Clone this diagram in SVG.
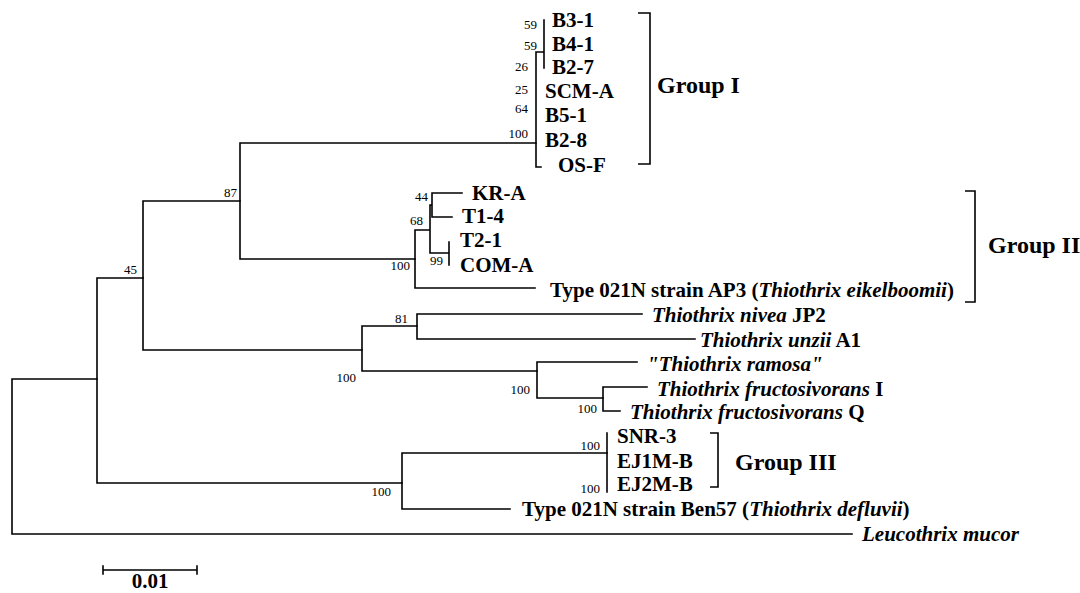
<svg xmlns="http://www.w3.org/2000/svg" width="1080" height="593" viewBox="0 0 1080 593">
<style>
.br{fill:none;stroke:#000;stroke-width:1.6;stroke-linecap:square}
.bk{fill:none;stroke:#000;stroke-width:1.6}
.lf{font-family:"Liberation Serif","Times New Roman",serif;font-size:21px;font-weight:bold;fill:#000}
.it{font-style:italic}
.bs{font-family:"Liberation Serif","Times New Roman",serif;font-size:13px;fill:#000;text-anchor:end}
.gp{font-family:"Liberation Serif","Times New Roman",serif;font-size:24px;font-weight:bold;fill:#000}
</style>
<rect width="1080" height="593" fill="#fff"/>
<g id="connectors">
<path class="br" d="M12,379V534M12,379H97M12,534H852"/>
<path class="br" d="M97,278V483M97,278H143M97,483H402"/>
<path class="br" d="M143,201V350M143,201H240M143,350H362"/>
<path class="br" d="M240,143V259M240,143H536M240,259H415"/>
<path class="br" d="M536,52V167M536,52H544M544,20V68M536,167H541"/>
<path class="br" d="M415,230V288M415,230H430M415,288H535M430,205V253M430,205H432M432,193V217M432,193H462M432,217H452M430,253H449M449,242V265"/>
<path class="br" d="M362,326V371M362,326H417M362,371H537"/>
<path class="br" d="M417,314V339M417,314H642M417,339H695"/>
<path class="br" d="M537,362V398M537,362H637M537,398H603"/>
<path class="br" d="M603,387V411M603,387H647M603,411H620"/>
<path class="br" d="M402,453V509M402,453H607M402,509H510"/>
<path class="br" d="M607,433V492" stroke-width="1"/>
</g>
<g id="bootstrap">
<text class="bs" x="537" y="29">59</text>
<text class="bs" x="537" y="50">59</text>
<text class="bs" x="528" y="71">26</text>
<text class="bs" x="528" y="94">25</text>
<text class="bs" x="528" y="113">64</text>
<text class="bs" x="528" y="138">100</text>
<text class="bs" x="237" y="197">87</text>
<text class="bs" x="137" y="274">45</text>
<text class="bs" x="428" y="201">44</text>
<text class="bs" x="423" y="225">68</text>
<text class="bs" x="443" y="265">99</text>
<text class="bs" x="410" y="270">100</text>
<text class="bs" x="408" y="323">81</text>
<text class="bs" x="356" y="382">100</text>
<text class="bs" x="530" y="394">100</text>
<text class="bs" x="597" y="413">100</text>
<text class="bs" x="600" y="450">100</text>
<text class="bs" x="600" y="493">100</text>
<text class="bs" x="391" y="496">100</text>
</g>
<g id="group1">
<text class="lf" x="552" y="27">B3-1</text>
<text class="lf" x="552" y="51">B4-1</text>
<text class="lf" x="552" y="74">B2-7</text>
<text class="lf" x="545" y="98">SCM-A</text>
<text class="lf" x="545" y="122">B5-1</text>
<text class="lf" x="545" y="147">B2-8</text>
<text class="lf" x="558" y="172">OS-F</text>
<path class="bk" d="M638,13H650V164H638"/>
<text class="gp" x="657" y="93">Group I</text>
</g>
<g id="group2">
<text class="lf" x="472" y="200">KR-A</text>
<text class="lf" x="462" y="223">T1-4</text>
<text class="lf" x="460" y="247">T2-1</text>
<text class="lf" x="460" y="272">COM-A</text>
<text class="lf" x="550" y="297">Type 021N strain AP3 (<tspan class="it">Thiothrix eikelboomii</tspan>)</text>
<path class="bk" d="M965,191H975V302H965"/>
<text class="gp" x="988" y="253">Group II</text>
</g>
<g id="thiothrix">
<text class="lf" x="652" y="322"><tspan class="it">Thiothrix nivea</tspan> JP2</text>
<text class="lf" x="700" y="347"><tspan class="it">Thiothrix unzii</tspan> A1</text>
<text class="lf it" x="647" y="371">"Thiothrix ramosa"</text>
<text class="lf" x="657" y="396"><tspan class="it">Thiothrix fructosivorans</tspan> I</text>
<text class="lf" x="630" y="419"><tspan class="it">Thiothrix fructosivorans</tspan> Q</text>
</g>
<g id="group3">
<text class="lf" x="617" y="443">SNR-3</text>
<text class="lf" x="617" y="468">EJ1M-B</text>
<text class="lf" x="617" y="491">EJ2M-B</text>
<path class="bk" d="M710,433H718V487H710"/>
<text class="gp" x="735" y="470">Group III</text>
<text class="lf" x="522" y="516">Type 021N strain Ben57 (<tspan class="it">Thiothrix defluvii</tspan>)</text>
</g>
<g id="leucothrix">
<text class="lf it" x="862" y="541">Leucothrix mucor</text>
</g>
<g id="scale">
<path class="br" d="M103,570H197M103,566V574M197,566V574" stroke-width="1.2"/>
<text class="lf" x="150" y="588" text-anchor="middle" font-size="18">0.01</text>
</g>
</svg>
